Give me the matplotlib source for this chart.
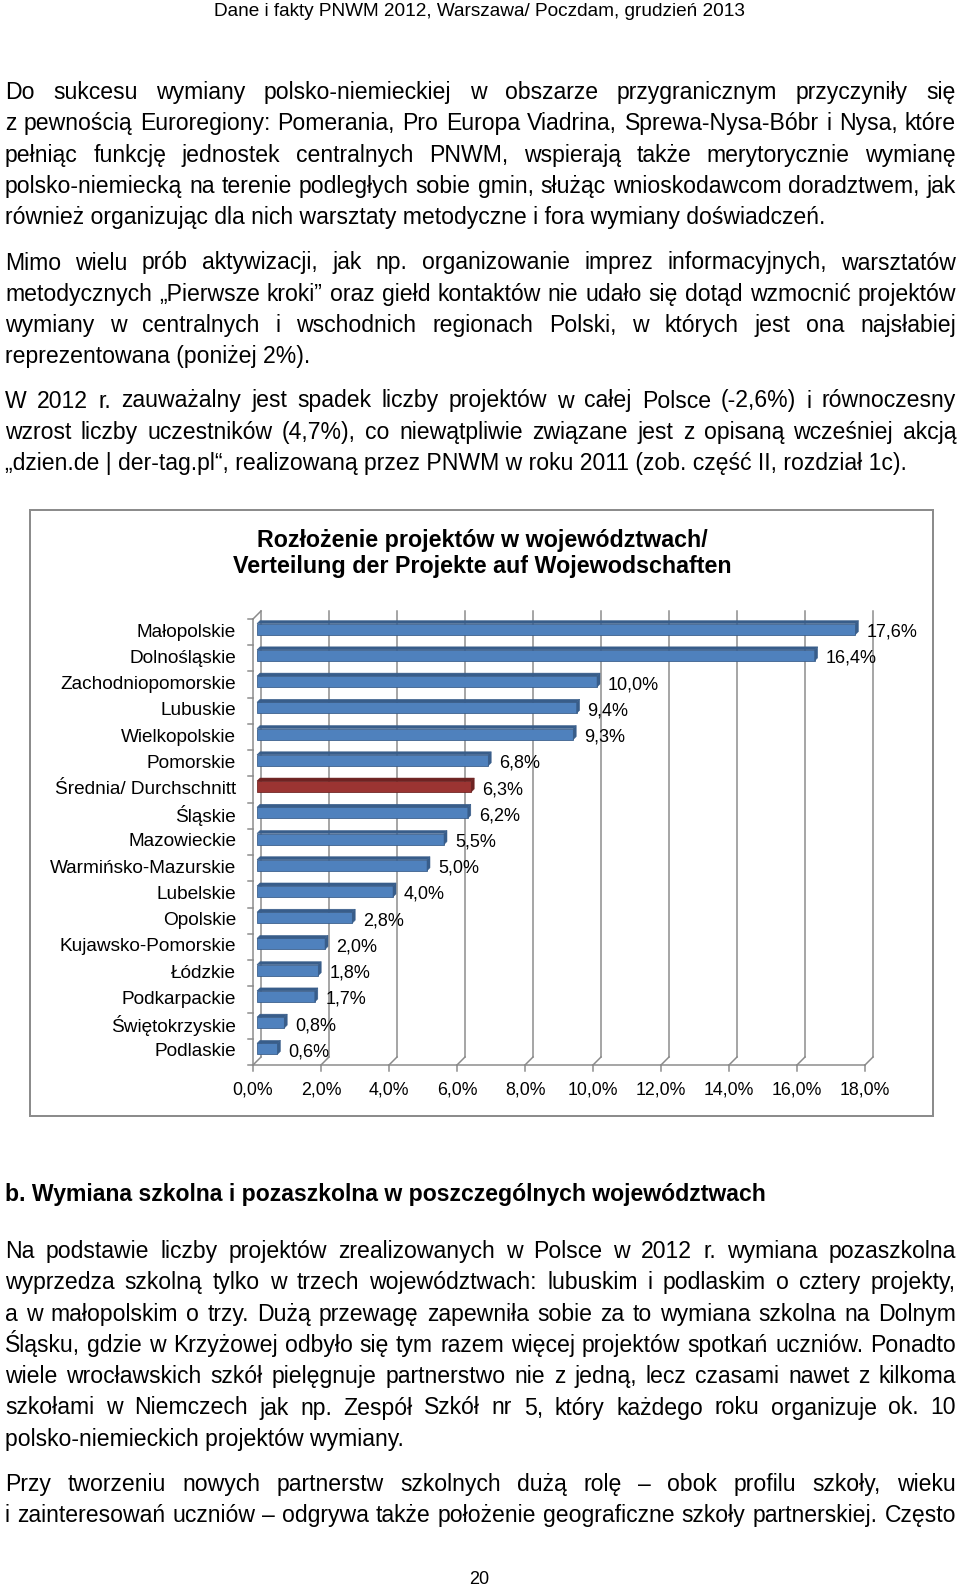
import matplotlib
matplotlib.use('Agg')
import matplotlib.pyplot as plt
from matplotlib.patches import Polygon, Rectangle
import numpy as np

plt.rcParams['font.family'] = ['Liberation Sans', 'DejaVu Sans']

# dane wykresu
regions = ['Małopolskie', 'Dolnośląskie', 'Zachodniopomorskie', 'Lubuskie',
           'Wielkopolskie', 'Pomorskie', 'Średnia/ Durchschnitt', 'Śląskie',
           'Mazowieckie', 'Warmińsko-Mazurskie', 'Lubelskie', 'Opolskie',
           'Kujawsko-Pomorskie', 'Łódzkie', 'Podkarpackie', 'Świętokrzyskie',
           'Podlaskie']
shares = [17.6, 16.4, 10.0, 9.4, 9.3, 6.8, 6.3, 6.2, 5.5, 5.0, 4.0, 2.8,
          2.0, 1.8, 1.7, 0.8, 0.6]
highlight = 'Średnia/ Durchschnitt'
xticks = [0, 2, 4, 6, 8, 10, 12, 14, 16, 18]

chart_title = ['Rozłożenie projektów w województwach/',
               'Verteilung der Projekte auf Wojewodschaften']
header = 'Dane i fakty PNWM 2012, Warszawa/ Poczdam, grudzień 2013'
heading_b = 'b. Wymiana szkolna i pozaszkolna w poszczególnych województwach'

para1 = ['Do sukcesu wymiany polsko-niemieckiej w obszarze przygranicznym przyczyniły się',
         'z pewnością Euroregiony: Pomerania, Pro Europa Viadrina, Sprewa-Nysa-Bóbr i Nysa, które',
         'pełniąc funkcję jednostek centralnych PNWM, wspierają także merytorycznie wymianę',
         'polsko-niemiecką na terenie podległych sobie gmin, służąc wnioskodawcom doradztwem, jak',
         'również organizując dla nich warsztaty metodyczne i fora wymiany doświadczeń.']
para2 = ['Mimo wielu prób aktywizacji, jak np. organizowanie imprez informacyjnych, warsztatów',
         'metodycznych „Pierwsze kroki” oraz giełd kontaktów nie udało się dotąd wzmocnić projektów',
         'wymiany w centralnych i wschodnich regionach Polski, w których jest ona najsłabiej',
         'reprezentowana (poniżej 2%).']
para3 = ['W 2012 r. zauważalny jest spadek liczby projektów w całej Polsce (-2,6%) i równoczesny',
         'wzrost liczby uczestników (4,7%), co niewątpliwie związane jest z opisaną wcześniej akcją',
         '„dzien.de | der-tag.pl“, realizowaną przez PNWM w roku 2011 (zob. część II, rozdział 1c).']
para4 = ['Na podstawie liczby projektów zrealizowanych w Polsce w 2012 r. wymiana pozaszkolna',
         'wyprzedza szkolną tylko w trzech województwach: lubuskim i podlaskim o cztery projekty,',
         'a w małopolskim o trzy. Dużą przewagę zapewniła sobie za to wymiana szkolna na Dolnym',
         'Śląsku, gdzie w Krzyżowej odbyło się tym razem więcej projektów spotkań uczniów. Ponadto',
         'wiele wrocławskich szkół pielęgnuje partnerstwo nie z jedną, lecz czasami nawet z kilkoma',
         'szkołami w Niemczech jak np. Zespół Szkół nr 5, który każdego roku organizuje ok. 10',
         'polsko-niemieckich projektów wymiany.']
para5 = ['Przy tworzeniu nowych partnerstw szkolnych dużą rolę – obok profilu szkoły, wieku',
         'i zainteresowań uczniów – odgrywa także położenie geograficzne szkoły partnerskiej. Często']

W, H = 960, 1589
fig = plt.figure(figsize=(W / 72, H / 72), dpi=72)
page = fig.add_axes([0, 0, 1, 1])
page.set_xlim(0, W)
page.set_ylim(H, 0)
page.axis('off')
renderer = fig.canvas.get_renderer()

X0, X1 = 5, 956
BODY = 23


def put_line(s, y, justify, size=BODY, weight='normal'):
    base = y + 7
    if not justify:
        page.text(X0, base, s, fontsize=size, weight=weight, va='baseline', ha='left')
        return
    words = s.split(' ')
    texts = [page.text(0, base, w, fontsize=size, weight=weight, va='baseline') for w in words]
    widths = [t.get_window_extent(renderer).width for t in texts]
    gap = (X1 - X0 - sum(widths)) / (len(words) - 1)
    x = X0
    for t, w in zip(texts, widths):
        t.set_x(x)
        x += w + gap


def put_par(lines, y0, step=31.3, last_justified=False):
    for k, s in enumerate(lines):
        last = k == len(lines) - 1
        put_line(s, y0 + k * step, (not last) or last_justified)


page.text(480, 11, header, fontsize=19, ha='center', va='center')
put_par(para1, 92)
put_par(para2, 262.5)
put_par(para3, 400.5)
put_line(heading_b, 1194, False, weight='bold')
put_par(para4, 1251)
put_par(para5, 1484, last_justified=True)
page.text(479, 1580, '20', fontsize=18, ha='center', va='center')

# ramka i tytul wykresu
page.add_patch(Rectangle((30, 510), 903, 606, fill=False, ec='#8C8C8C', lw=2))
page.text(482, 541, chart_title[0], fontsize=23.2, weight='bold', ha='center', va='center')
page.text(482, 567, chart_title[1], fontsize=23.2, weight='bold', ha='center', va='center')

# wykres
L, R, T, B = 253, 865, 619, 1065
n = len(regions)
ax = fig.add_axes([L / W, 1 - B / H, (R - L) / W, (B - T) / H])
ax.set_xlim(0, 18)
ax.set_ylim(n - 0.5, -0.5)
ax.axis('off')
sx = (R - L) / 18
sy = (B - T) / n
dx, dy = 8 / sx, 8 / sy
grid = '#8A8A8A'

for v in xticks:
    ax.plot([v + dx, v + dx], [n - 0.5 - dy, -0.5 - dy], color=grid, lw=1.5, clip_on=False, zorder=1)
    ax.plot([v, v + dx], [n - 0.5, n - 0.5 - dy], color=grid, lw=1.5, clip_on=False, zorder=1)
    ax.plot([v, v], [n - 0.5, n - 0.5 + 6 / sy], color=grid, lw=1.5, clip_on=False, zorder=1)
    ax.text(v, n - 0.5 + 25 / sy, f'{v:.1f}%'.replace('.', ','), fontsize=17.8,
            ha='center', va='center')
ax.plot([0, 0], [-0.5, n - 0.5], color=grid, lw=1.5, clip_on=False, zorder=1)
ax.plot([0, dx], [-0.5, -0.5 - dy], color=grid, lw=1.5, clip_on=False, zorder=1)
ax.plot([0, 18], [n - 0.5, n - 0.5], color=grid, lw=1.5, clip_on=False, zorder=1)
for k in range(n + 1):
    ax.plot([-5 / sx, 0], [k - 0.5, k - 0.5], color=grid, lw=1.5, clip_on=False, zorder=1)

colors = ['#9B3432' if r == highlight else '#4F81BD' for r in regions]
dark = ['#6E2322' if r == highlight else '#385D8A' for r in regions]
left = 4 / sx
ypos = np.arange(n) - 3 / sy
hb = 11 / sy
ax.barh(ypos, shares, left=left, height=hb, color=colors, edgecolor=dark, lw=0.8,
        zorder=3, clip_on=False)
cx, cy = 3 / sx, 3 / sy
for yc, v, c in zip(ypos, shares, dark):
    top, bot = yc - hb / 2, yc + hb / 2
    ax.add_patch(Polygon([(left, top), (left + v, top), (left + v + cx, top - cy),
                          (left + cx, top - cy)], closed=True, fc=c, ec=c, lw=0.5,
                         zorder=3, clip_on=False))
    ax.add_patch(Polygon([(left + v, top), (left + v, bot), (left + v + cx, bot - cy),
                          (left + v + cx, top - cy)], closed=True, fc=c, ec=c, lw=0.5,
                         zorder=3, clip_on=False))

for i, (r, v) in enumerate(zip(regions, shares)):
    ax.text(-17 / sx, i, r, fontsize=19, ha='right', va='center')
    ax.annotate(f'{v:.1f}%'.replace('.', ','), (left + v, i), xytext=(11, 0),
                textcoords='offset points', fontsize=18, va='center', ha='left',
                annotation_clip=False, zorder=4)

fig.savefig('out.png', dpi=72)
